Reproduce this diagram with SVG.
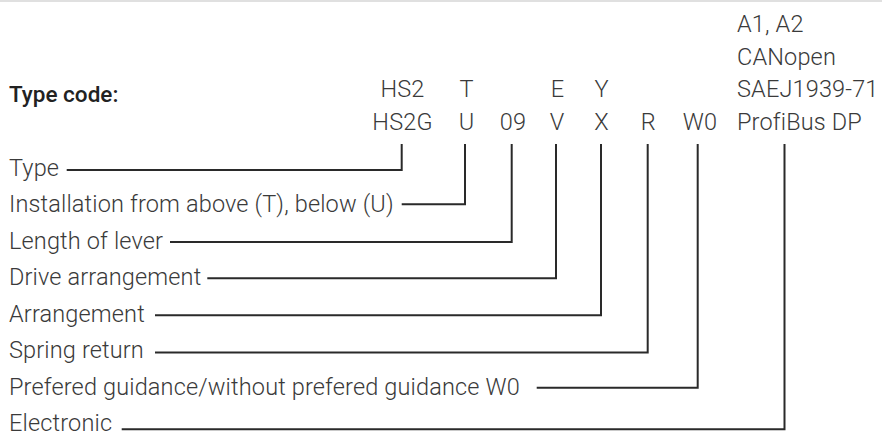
<svg xmlns="http://www.w3.org/2000/svg" width="882" height="434" viewBox="0 0 882 434">
<style>
.t{font-family:"Roboto Light",Roboto,"Liberation Sans",sans-serif;font-weight:300;font-size:23.5px;letter-spacing:0.15px;fill:#3a3a3a}
.c{text-anchor:middle}
.h{font-family:"Roboto Medium",Roboto,"Liberation Sans",sans-serif;font-weight:500;font-size:22.5px;fill:#222}
.ln{fill:none;stroke:#2a2a2a;stroke-width:2}
</style>
<rect x="0" y="0" width="882" height="2" fill="#e0e0e0"/>
<g id="title"><text class="h" x="9" y="102">Type code:</text></g>
<g id="code-type"><text class="t c" x="402.5" y="97">HS2</text><text class="t c" x="402.5" y="129.5">HS2G</text></g>
<g id="code-install"><text class="t c" x="466.5" y="97">T</text><text class="t c" x="466.5" y="129.5">U</text></g>
<g id="code-lever"><text class="t c" x="513" y="129.5">09</text></g>
<g id="code-drive"><text class="t c" x="557.5" y="97">E</text><text class="t c" x="557" y="129.5">V</text></g>
<g id="code-arr"><text class="t c" x="601.5" y="97">Y</text><text class="t c" x="601.5" y="129.5">X</text></g>
<g id="code-spring"><text class="t c" x="648.3" y="129.5">R</text></g>
<g id="code-guid"><text class="t c" x="700" y="129.5">W0</text></g>
<g id="code-elec"><text class="t" x="737" y="32">A1, A2</text><text class="t" x="737" y="64.5">CANopen</text><text class="t" x="737" y="97">SAEJ1939-71</text><text class="t" x="737" y="129.5">ProfiBus DP</text></g>
<g id="label-type"><text class="t" x="9" y="176">Type</text></g>
<g id="label-install"><text class="t" x="9" y="212">Installation from above (T), below (U)</text></g>
<g id="label-lever"><text class="t" x="9" y="249">Length of lever</text></g>
<g id="label-drive"><text class="t" x="9" y="285">Drive arrangement</text></g>
<g id="label-arr"><text class="t" x="9" y="321.7">Arrangement</text></g>
<g id="label-spring"><text class="t" x="9" y="358.3">Spring return</text></g>
<g id="label-guid"><text class="t" x="9" y="395">Prefered guidance/without prefered guidance W0</text></g>
<g id="label-elec"><text class="t" x="9" y="430.5">Electronic</text></g>
<g id="connectors">
<polyline class="ln" points="66.7,170 401.7,170 401.7,144"/>
<polyline class="ln" points="401.7,204.3 465,204.3 465,144"/>
<polyline class="ln" points="170,242 511.7,242 511.7,144"/>
<polyline class="ln" points="207.3,278.3 556,278.3 556,144"/>
<polyline class="ln" points="155,315.3 601,315.3 601,144"/>
<polyline class="ln" points="155,352.5 647.7,352.5 647.7,144"/>
<polyline class="ln" points="536.7,387.7 697.7,387.7 697.7,144"/>
<polyline class="ln" points="121.7,429.3 784.5,429.3 784.5,144"/>
</g>
</svg>
